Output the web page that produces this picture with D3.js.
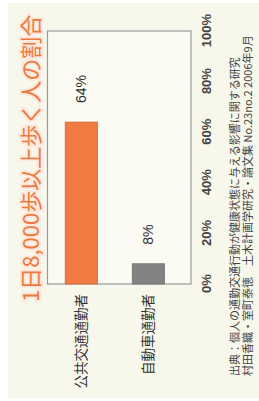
<!DOCTYPE html>
<html lang="ja">
<head>
    <meta charset="UTF-8">
    <title>1日8,000歩以上歩く人の割合</title>
    <script src="https://cdnjs.cloudflare.com/ajax/libs/d3/7.8.5/d3.min.js"></script>
    <style>
        html, body {
            margin: 0;
            background: #ffffff;
        }
        svg { display: block; }
    </style>
</head>
<body>
    <div id="vis"></div>
    <script>

        // data
        var categories = ["公共交通通勤者", "自動車通勤者"];
        var values = [64, 8];
        var barColours = ["#f07a42", "#828282"];
        var tickValues = [0, 20, 40, 60, 80, 100];
        var titleText = "1日8,000歩以上歩く人の割合";
        var sourceLines = [
            "出典：個人の通勤交通行動が健康状態に与える影響に関する研究",
            "村田香織・室町泰徳　土木計画学研究・論文集 No.23no.2 2006年9月"
        ];

        // the picture is landscape, turned a quarter turn to the left
        var W = 401, H = 259;

        var frame = { left: 117, right: 370, top: 47.5, bottom: 191 };

        var svg = d3.select('#vis')
                    .append('svg')
                        .attr('width', H)
                        .attr('height', W);

        var g = svg.append('g')
                    .attr('transform', 'translate(0,' + W + ') rotate(-90)');

        // cream paper
        g.append('rect')
            .attr('x', 3)
            .attr('y', 8)
            .attr('width', W - 6)
            .attr('height', H - 8)
            .attr('fill', '#f7f7ec');

        var x = d3.scaleLinear()
                    .domain([0, 100])
                    .range([frame.left, frame.right]);

        var y = d3.scaleBand()
                    .domain(categories)
                    .range([frame.top, frame.bottom])
                    .paddingInner(0.52)
                    .paddingOuter(0.33)
                    .align(0.4);

        // plot frame
        g.append('rect')
            .attr('x', frame.left)
            .attr('y', frame.top)
            .attr('width', frame.right - frame.left)
            .attr('height', frame.bottom - frame.top)
            .attr('fill', '#fbfbf4')
            .attr('stroke', '#9a9a9a')
            .attr('stroke-width', 1.2);

        // bars
        g.selectAll('.bar')
            .data(values)
            .enter()
            .append('rect')
                .attr('class', 'bar')
                .attr('x', x(0))
                .attr('y', function(d, i){ return y(categories[i]); })
                .attr('width', function(d){ return x(d) - x(0); })
                .attr('height', y.bandwidth())
                .attr('fill', function(d, i){ return barColours[i]; })
                .attr('stroke', function(d, i){ return d3.color(barColours[i]).darker(0.4); })
                .attr('stroke-width', 0.8);

        // value labels
        g.selectAll('.val')
            .data(values)
            .enter()
            .append('text')
                .attr('class', 'val')
                .attr('x', function(d){ return x(d) + 19; })
                .attr('y', function(d, i){ return y(categories[i]) + y.bandwidth() / 2; })
                .attr('dy', '0.36em')
                .attr('font-family', 'Liberation Sans, Arial, sans-serif')
                .attr('font-size', '14px')
                .attr('fill', '#333')
                .text(function(d){ return d + '%'; });

        // value axis
        var xAxis = d3.axisBottom(x)
                    .tickValues(tickValues)
                    .tickSize(0)
                    .tickPadding(11)
                    .tickFormat(function(d){ return d + '%'; });

        var xg = g.append('g')
            .attr('transform', 'translate(0,' + frame.bottom + ')')
            .call(xAxis);
        xg.select('.domain').remove();
        xg.selectAll('text')
            .attr('font-family', 'Liberation Sans, Arial, sans-serif')
            .attr('font-weight', 'bold')
            .attr('font-size', '13px')
            .attr('fill', '#444');

        // category axis
        var yAxis = d3.axisLeft(y)
                    .tickSize(0)
                    .tickPadding(10);

        var yg = g.append('g')
            .attr('transform', 'translate(' + frame.left + ',0)')
            .call(yAxis);
        yg.select('.domain').remove();
        yg.selectAll('text')
            .attr('font-family', 'Noto Sans CJK JP, sans-serif')
            .attr('font-size', '13.5px')
            .attr('fill', '#333');

        // title
        g.append('text')
            .attr('x', 99)
            .attr('y', 39)
            .attr('font-family', 'Noto Sans CJK JP, sans-serif')
            .attr('font-size', '22px')
            .attr('fill', '#ec7a3e')
            .attr('stroke', '#fde8de')
            .attr('stroke-width', 4)
            .attr('paint-order', 'stroke')
            .text(titleText);

        // source
        g.selectAll('.src')
            .data(sourceLines)
            .enter()
            .append('text')
                .attr('class', 'src')
                .attr('x', 25)
                .attr('y', function(d, i){ return 239 + i * 13; })
                .attr('font-family', 'Noto Sans CJK JP, sans-serif')
                .attr('font-size', '11px')
                .attr('fill', '#444')
                .text(function(d){ return d; });

    </script>
</body>
</html>
